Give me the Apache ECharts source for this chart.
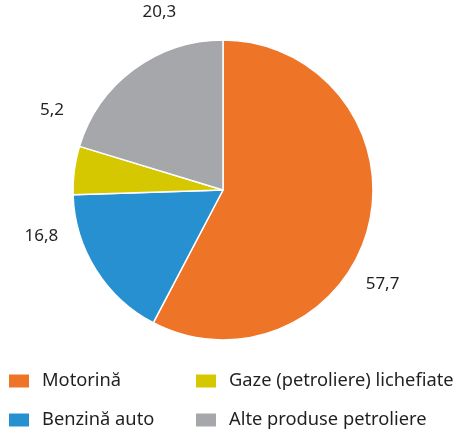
<!DOCTYPE html>
<html>
<head>
<meta charset="utf-8">
<script src="https://cdn.jsdelivr.net/npm/echarts@6/dist/echarts.min.js"></script>
<style>
  html, body { margin: 0; padding: 0; background: #fff; }
  #chart { width: 461px; height: 429px; }
</style>
</head>
<body>
<div id="chart"></div>
<script>
// categories and values (percent)
const categories = ["Motorină", "Benzină auto", "Gaze (petroliere) lichefiate", "Alte produse petroliere"];
const values = [57.7, 16.8, 5.2, 20.3];
const colors = ["#ee7527", "#2790d0", "#d6c800", "#a6a7ab"];

const pieData = categories.map((name, i) => ({ name: name, value: values[i] }));
const fmt = (p) => String(p.value).replace(".", ",");

const legendBase = {
  orient: "vertical",
  top: 372,
  height: 80,
  padding: 0,
  itemWidth: 22,
  itemHeight: 15,
  itemGap: 21,
  icon: "rect",
  selectedMode: false,
  textStyle: { fontFamily: "Noto Sans", fontSize: 18.3, color: "#231f20", padding: [0, 0, 0, 7] },
};

let chart = echarts.init(document.getElementById("chart"));
let option = {
  animation: false,
  color: colors,
  legend: [
    Object.assign({}, legendBase, { data: [categories[0], categories[1]], left: 7 }),
    Object.assign({}, legendBase, { data: [categories[2], categories[3]], left: 194 }),
  ],
  series: [
    {
      type: "pie",
      center: [223, 190],
      radius: 150,
      startAngle: 90,
      clockwise: true,
      silent: true,
      label: { show: false },
      labelLine: { show: false },
      itemStyle: { borderColor: "#fff", borderWidth: 1.5 },
      data: pieData,
    },
    {
      // invisible ring that only carries the value labels
      type: "pie",
      center: [222, 188],
      radius: [158, 210],
      startAngle: 73,
      clockwise: true,
      silent: true,
      itemStyle: { color: "rgba(0,0,0,0)" },
      label: {
        show: true,
        position: "inside",
        formatter: fmt,
        fontFamily: "Noto Sans",
        fontSize: 17,
        color: "#231f20",
      },
      labelLine: { show: false },
      emphasis: { disabled: true },
      data: pieData,
    },
  ],
};
chart.setOption(option);
</script>
</body>
</html>
